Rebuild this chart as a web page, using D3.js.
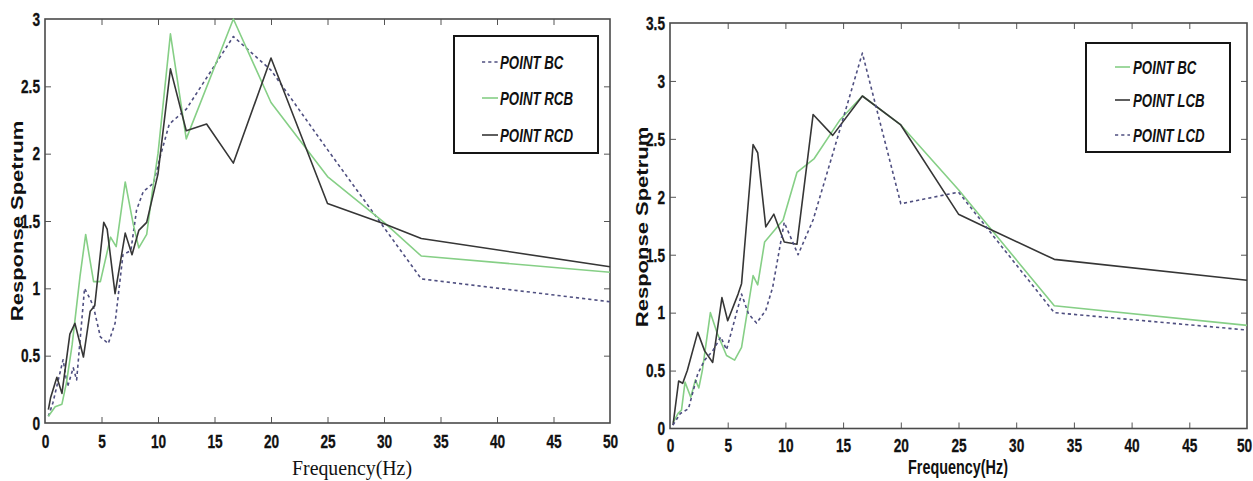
<!DOCTYPE html>
<html>
<head>
<meta charset="utf-8">
<script src="https://cdn.jsdelivr.net/npm/d3@7"></script>
<style>
  html, body { margin: 0; padding: 0; background: #fff; }
  svg { display: block; }
</style>
</head>
<body>
<svg id="chart" width="1253" height="481"></svg>
<script>
// ---------- DATA ----------
// Left panel
const leftFreqBC  = [0.3, 0.7, 1.6, 2.0, 2.5, 2.8, 3.5, 4.0, 4.3, 4.9, 5.6, 6.2, 6.9, 7.6, 8.1, 8.7, 9.6, 10.2, 11.0, 12.5, 16.67, 20, 25, 33.3, 50];
const leftBC      = [0.05, 0.15, 0.47, 0.27, 0.41, 0.32, 1.00, 0.92, 0.86, 0.64, 0.59, 0.74, 1.25, 1.28, 1.58, 1.72, 1.78, 1.98, 2.22, 2.33, 2.87, 2.62, 2.03, 1.07, 0.90];
const leftFreqRCB = [0.3, 0.9, 1.5, 1.9, 2.4, 3.1, 3.6, 4.3, 4.9, 5.8, 6.3, 7.1, 7.8, 8.3, 9.0, 9.5, 10.0, 11.1, 12.5, 16.67, 20, 25, 30, 33.3, 50];
const leftRCB     = [0.05, 0.12, 0.14, 0.30, 0.58, 1.09, 1.40, 1.05, 1.05, 1.38, 1.31, 1.79, 1.48, 1.30, 1.40, 1.72, 2.00, 2.89, 2.11, 3.00, 2.38, 1.83, 1.49, 1.24, 1.12];
const leftFreqRCD = [0.3, 0.5, 1.05, 1.5, 2.2, 2.65, 3.4, 4.0, 4.4, 5.2, 5.5, 6.2, 7.1, 7.7, 8.3, 9.0, 10.0, 11.1, 12.5, 14.3, 16.67, 20, 25, 30, 33.3, 50];
const leftRCD     = [0.10, 0.19, 0.34, 0.22, 0.66, 0.74, 0.49, 0.83, 0.87, 1.49, 1.44, 0.96, 1.41, 1.25, 1.43, 1.49, 1.85, 2.63, 2.17, 2.22, 1.93, 2.71, 1.63, 1.48, 1.37, 1.16];

// Right panel
const rightFreqBC  = [0.26, 0.7, 1.0, 1.3, 1.8, 2.2, 2.5, 2.8, 3.5, 4.1, 4.9, 5.6, 6.2, 7.2, 7.6, 8.2, 9.8, 11.0, 12.5, 14.7, 16.67, 20, 25, 33.3, 50];
const rightBC      = [0.05, 0.13, 0.16, 0.40, 0.27, 0.42, 0.35, 0.50, 1.00, 0.82, 0.63, 0.59, 0.70, 1.32, 1.24, 1.61, 1.80, 2.21, 2.33, 2.66, 2.87, 2.62, 2.06, 1.06, 0.89];
const rightFreqLCB = [0.26, 0.75, 1.1, 1.5, 2.4, 3.0, 3.7, 4.5, 5.0, 5.9, 6.2, 7.2, 7.6, 8.3, 9.0, 9.9, 11.0, 12.4, 14.1, 16.67, 20, 25, 27.5, 33.3, 50];
const rightLCB     = [0.03, 0.41, 0.39, 0.50, 0.83, 0.67, 0.57, 1.13, 0.93, 1.16, 1.25, 2.45, 2.38, 1.74, 1.85, 1.61, 1.59, 2.71, 2.53, 2.87, 2.62, 1.85, 1.73, 1.46, 1.28];
const rightFreqLCD = [0.26, 0.9, 1.6, 2.4, 3.0, 3.7, 4.4, 4.9, 5.5, 6.2, 6.8, 7.5, 8.3, 8.9, 9.9, 11.1, 12.4, 14.1, 16.67, 20, 25, 33.3, 50];
const rightLCD     = [0.03, 0.13, 0.17, 0.47, 0.59, 0.67, 0.79, 0.68, 0.90, 1.16, 0.99, 0.91, 1.02, 1.22, 1.78, 1.50, 1.80, 2.37, 3.24, 1.94, 2.04, 1.00, 0.85];

// Tick labels
const xTicks       = [0, 5, 10, 15, 20, 25, 30, 35, 40, 45, 50];
const leftYTicks   = [0, 0.5, 1, 1.5, 2, 2.5, 3];
const rightYTicks  = [0, 0.5, 1, 1.5, 2, 2.5, 3, 3.5];

// Legend labels
const leftLegend  = ["POINT BC", "POINT RCB", "POINT RCD"];
const rightLegend = ["POINT BC", "POINT LCB", "POINT LCD"];

const yTitle = "Response Spetrum";
const xTitle = "Frequency(Hz)";

// ---------- STYLES ----------
const GREEN = "#86cf86", BLACK = "#363636", BLUE = "#4f4f80";
const styles = {
  dashed: {stroke: BLUE, dash: "3.2,3"},
  green:  {stroke: GREEN, dash: null},
  black:  {stroke: BLACK, dash: null}
};
const SQ = 0.72; // horizontal squeeze of the reference image text

const svg = d3.select("#chart");

function panel(cfg) {
  const x = d3.scaleLinear().domain([0, 50]).range([cfg.x0, cfg.x1]);
  const y = d3.scaleLinear().domain([0, cfg.ymax]).range([cfg.y1, cfg.y0]);
  const g = svg.append("g");

  const tickCol = "#555";
  const bottom = g.append("g").attr("transform", `translate(0,${cfg.y1})`)
    .call(d3.axisBottom(x).tickValues(xTicks).tickSizeInner(-6).tickSizeOuter(0).tickFormat(d => d));
  const top = g.append("g").attr("transform", `translate(0,${cfg.y0})`)
    .call(d3.axisTop(x).tickValues(xTicks).tickSizeInner(-6).tickSizeOuter(0).tickFormat(""));
  const left = g.append("g").attr("transform", `translate(${cfg.x0},0)`)
    .call(d3.axisLeft(y).tickValues(cfg.yTicks).tickSizeInner(-6).tickSizeOuter(0).tickFormat(d => d));
  const right = g.append("g").attr("transform", `translate(${cfg.x1},0)`)
    .call(d3.axisRight(y).tickValues(cfg.yTicks).tickSizeInner(-6).tickSizeOuter(0).tickFormat(""));
  [bottom, top, left, right].forEach(a => {
    a.select(".domain").remove();
    a.selectAll(".tick line").attr("stroke", tickCol).attr("stroke-width", 1);
  });
  [bottom, top].forEach(a => a.selectAll(".tick line").filter(d => d === 0 || d === 50).remove());
  [left, right].forEach(a => a.selectAll(".tick line").filter(d => d === 0 || d === cfg.ymax).remove());

  bottom.selectAll(".tick text")
    .attr("y", null).attr("dy", null)
    .attr("transform", d => `translate(${d === 50 ? cfg.lastShift : 0},${cfg.xLabOff}) scale(${SQ},1)`)
    .attr("dominant-baseline", "central")
    .attr("font-family", "Liberation Sans, Arial, sans-serif")
    .attr("font-weight", "bold").attr("font-size", 19).attr("fill", "#111")
    .attr("stroke", "#111").attr("stroke-width", 0.3);
  left.selectAll(".tick text")
    .attr("x", null).attr("dy", null)
    .attr("transform", `translate(${cfg.yLabOff},0) scale(${SQ},1)`)
    .attr("dominant-baseline", "central")
    .attr("font-family", "Liberation Sans, Arial, sans-serif")
    .attr("font-weight", "bold").attr("font-size", 19).attr("fill", "#111")
    .attr("stroke", "#111").attr("stroke-width", 0.3);

  g.append("rect").attr("x", cfg.x0).attr("y", cfg.y0)
    .attr("width", cfg.x1 - cfg.x0).attr("height", cfg.y1 - cfg.y0)
    .attr("fill", "none").attr("stroke", "#4a4a4a").attr("stroke-width", 1.6);

  const line = d3.line().x(d => x(d[0])).y(d => y(d[1]));
  cfg.series.forEach(s => {
    const pts = s.f.map((f, i) => [f, s.v[i]]);
    const st = styles[s.style];
    g.append("path").datum(pts).attr("d", line)
      .attr("fill", "none").attr("stroke", st.stroke).attr("stroke-width", 1.6)
      .attr("stroke-linejoin", "round")
      .attr("stroke-dasharray", st.dash);
  });

  g.append("text")
    .attr("transform", `translate(${cfg.yTitleX},${cfg.yTitleY}) scale(${SQ},1) rotate(-90)`)
    .attr("text-anchor", "middle").attr("dominant-baseline", "central")
    .attr("font-family", "Liberation Sans, Arial, sans-serif")
    .attr("font-weight", "bold").attr("font-size", 22).attr("fill", "#111")
    .text(yTitle);

  const xt = g.append("text").attr("text-anchor", "middle").attr("fill", "#111");
  if (cfg.serifX) {
    xt.attr("x", cfg.xTitleX).attr("y", cfg.xTitleY)
      .attr("font-family", "Liberation Serif, Times New Roman, serif")
      .attr("font-size", 22)
      .attr("textLength", 120).attr("lengthAdjust", "spacingAndGlyphs");
  } else {
    xt.attr("transform", `translate(${cfg.xTitleX},${cfg.xTitleY}) scale(${SQ},1)`)
      .attr("font-family", "Liberation Sans, Arial, sans-serif")
      .attr("font-weight", "bold").attr("font-size", 20);
  }
  xt.text(xTitle);

  const L = cfg.legend;
  g.append("rect").attr("x", L.x0).attr("y", L.y0)
    .attr("width", L.x1 - L.x0).attr("height", L.y1 - L.y0)
    .attr("fill", "#fff").attr("stroke", "#151515").attr("stroke-width", 2);
  cfg.series.forEach((s, i) => {
    const st = styles[s.style];
    const yy = L.rows[i];
    g.append("line").attr("x1", L.lx0).attr("x2", L.lx1).attr("y1", yy).attr("y2", yy)
      .attr("stroke", st.stroke).attr("stroke-width", 1.6).attr("stroke-dasharray", st.dash);
    g.append("text")
      .attr("transform", `translate(${L.tx},${yy}) scale(0.7,1)`)
      .attr("dominant-baseline", "central")
      .attr("font-family", "Liberation Sans, Arial, sans-serif")
      .attr("font-weight", "bold").attr("font-style", "italic")
      .attr("font-size", 19).attr("fill", "#111")
      .text(s.name);
  });
}

panel({
  x0: 45, x1: 610, y0: 19, y1: 423, ymax: 3, yTicks: leftYTicks,
  xLabOff: 19, yLabOff: -5, lastShift: 0,
  yTitleX: 18, yTitleY: 221,
  xTitleX: 352, xTitleY: 475, serifX: true,
  legend: {x0: 454, x1: 598, y0: 36, y1: 153, rows: [62, 98, 135], lx0: 482, lx1: 498, tx: 500},
  series: [
    {name: leftLegend[0], f: leftFreqBC,  v: leftBC,  style: "dashed"},
    {name: leftLegend[1], f: leftFreqRCB, v: leftRCB, style: "green"},
    {name: leftLegend[2], f: leftFreqRCD, v: leftRCD, style: "black"}
  ]
});

panel({
  x0: 670, x1: 1247, y0: 23, y1: 428.5, ymax: 3.5, yTicks: rightYTicks,
  xLabOff: 17.5, yLabOff: -5, lastShift: -3,
  yTitleX: 643, yTitleY: 227,
  xTitleX: 958, xTitleY: 474, serifX: false,
  legend: {x0: 1086, x1: 1230, y0: 43, y1: 152, rows: [67, 100, 135], lx0: 1115, lx1: 1130, tx: 1133},
  series: [
    {name: rightLegend[0], f: rightFreqBC,  v: rightBC,  style: "green"},
    {name: rightLegend[1], f: rightFreqLCB, v: rightLCB, style: "black"},
    {name: rightLegend[2], f: rightFreqLCD, v: rightLCD, style: "dashed"}
  ]
});
</script>
</body>
</html>
